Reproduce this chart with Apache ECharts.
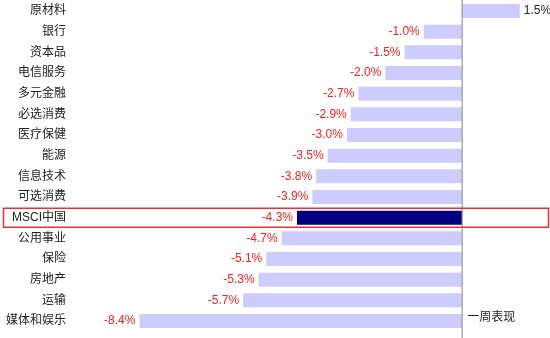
<!DOCTYPE html>
<html><head><meta charset="utf-8">
<script src="https://cdn.jsdelivr.net/npm/echarts@6/dist/echarts.min.js"></script>
<style>html,body{margin:0;padding:0;background:#fff}#c{width:550px;height:338px}</style>
</head><body><div id="c"></div>
<script>
const categories = ['原材料','银行','资本品','电信服务','多元金融','必选消费','医疗保健','能源','信息技术','可选消费','MSCI中国','公用事业','保险','房地产','运输','媒体和娱乐'];
const values = [1.5,-1.0,-1.5,-2.0,-2.7,-2.9,-3.0,-3.5,-3.8,-3.9,-4.3,-4.7,-5.1,-5.3,-5.7,-8.4];
const highlight = 'MSCI中国';
const seriesName = '一周表现';

const FONT = '"Liberation Sans", "Noto Sans CJK SC", sans-serif';
const chart = echarts.init(document.getElementById('c'), null, {renderer:'canvas'});
const option = {
  animation:false,
  grid:{left:78, right:11, top:0.7, bottom:6.7, containLabel:false},
  xAxis:{type:'value', min:-10, max:2, show:false},
  yAxis:{type:'category', data:categories, inverse:true,
    axisLine:{show:false}, axisTick:{show:false}, splitLine:{show:false},
    axisLabel:{color:'#222', fontSize:12, fontFamily:FONT, margin:12}},
  series:[{
    name:seriesName, type:'bar', barWidth:14,
    data: values.map((v,i)=>({value:v,
      itemStyle:{color: categories[i]===highlight ? '#000080' : '#CCCCFF'},
      label:{position: v<0 ? 'left':'right', color: v<0 ? '#FF2020' : '#222'}})),
    label:{show:true, fontSize:12, fontFamily:FONT, distance:4,
      formatter:p=>p.value.toFixed(1)+'%'}
  }]
};
chart.setOption(option);
const x0 = chart.convertToPixel({xAxisIndex:0}, 0);
const yH = chart.convertToPixel({yAxisIndex:0}, highlight);
const yLast = chart.convertToPixel({yAxisIndex:0}, categories[categories.length-1]);
chart.setOption({graphic:[
  {type:'line', shape:{x1:x0, y1:0, x2:x0, y2:338}, style:{stroke:'#999', lineWidth:1.2}, z:10},
  {type:'rect', shape:{x:3.5, y:yH-9.5, width:545, height:19}, style:{fill:'none', stroke:'#E83030', lineWidth:1.5}, z:11},
  {type:'text', x:x0+5, y:yLast-3, style:{text:seriesName, fill:'#222', font:'12px '+FONT, textVerticalAlign:'middle'}, z:12}
]});
</script></body></html>
